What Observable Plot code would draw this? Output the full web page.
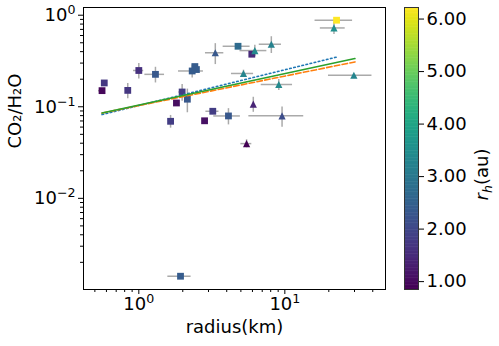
<!DOCTYPE html>
<html><head><meta charset="utf-8">
<script src="https://cdn.jsdelivr.net/npm/d3@7"></script>
<script src="https://cdn.jsdelivr.net/npm/@observablehq/plot@0.6"></script>
<style>
body{margin:0;background:#fff;}
#wrap{position:relative;width:499px;height:346px;background:#fff;font-family:"DejaVu Sans",sans-serif;}
#wrap svg{position:absolute;top:0;}
</style></head><body><div id="wrap"></div>
<script>
// ---- data ----
const radius   = [0.56, 0.58, 0.84, 1.00, 1.30, 1.65, 1.98, 1.81, 2.15, 2.32, 2.42, 2.48, 3.21, 2.82, 4.11, 3.34, 4.78, 5.94, 6.23, 8.08, 5.21, 9.09, 6.08, 9.57, 5.47, 22.6, 21.7, 29.7, 1.93];
const ratio    = [0.150, 0.182, 0.151, 0.249, 0.226, 0.0694, 0.145, 0.110, 0.121, 0.246, 0.275, 0.255, 0.0893, 0.0703, 0.0794, 0.389, 0.458, 0.375, 0.411, 0.482, 0.231, 0.175, 0.107, 0.0797, 0.0396, 0.882, 0.726, 0.221, 0.00141];
const rh       = [0.95, 1.7, 1.7, 1.6, 2.3, 1.8, 1.8, 1.05, 2.3, 2.4, 2.4, 2.4, 1.8, 1.1, 2.3, 2.3, 2.7, 1.5, 3.4, 3.2, 3.3, 3.4, 1.4, 2.1, 0.85, 6.22, 3.5, 3.3, 2.4];
const marker   = ["s","s","s","s","s","s","s","s","s","s","s","s","s","s","s","^","s","s","^","^","^","^","^","^","^","s","^","^","s"];
const radiusErr= [0.03, 0, 0, 0.08, 0.2, 0, 0.1, 0, 0, 0.45, 0, 0, 0.33, 0, 0.85, 0.48, 1.0, 0, 1.3, 1.4, 0.9, 2.2, 0, 3.9, 0.47, 6.5, 4.2, 9.8, 0.35];
const ratioErr = [0, 0, 0.029, 0.048, 0.044, 0.011, 0.03, 0, 0.035, 0.04, 0, 0, 0.005, 0, 0.016, 0.1, 0, 0, 0.06, 0.1, 0.02, 0.024, 0.02, 0.02, 0.004, 0, 0.11, 0, 0];
// fitted power laws (end points)
const fitX       = [0.56, 30.2];
const fitGreen   = [0.0855, 0.336];
const fitOrange  = [0.0855, 0.309];
const fitBlueX   = [0.56, 22.8];
const fitBlue    = [0.0822, 0.350];
// ticks
const xMajor = [1, 10];
const xMinor = [0.5,0.6,0.7,0.8,0.9,2,3,4,5,6,7,8,9,20,30,40];
const yMajor = [0.01, 0.1, 1];
const yMinor = [0.002,0.003,0.004,0.005,0.006,0.007,0.008,0.009,0.02,0.03,0.04,0.05,0.06,0.07,0.08,0.09,0.2,0.3,0.4,0.5,0.6,0.7,0.8,0.9];
const cbTicks = [1, 2, 3, 4, 5, 6];
const rhMin = 0.85, rhMax = 6.22;

const rows = radius.map((r, i) => ({r, v: ratio[i], rh: rh[i], m: marker[i], xe: radiusErr[i], ye: ratioErr[i]}));
const tri = {draw(ctx, size){const h = Math.sqrt(size/Math.PI); ctx.moveTo(0,-h); ctx.lineTo(h,h); ctx.lineTo(-h,h); ctx.closePath();}};
const sq  = {draw(ctx, size){const h = Math.sqrt(size/Math.PI); ctx.rect(-h,-h,2*h,2*h);}};
const pw = d => "10^" + String(Math.round(Math.log10(d))).replace("-", "\u2212");
const line = (xs, ys) => xs.map((x, i) => ({x, y: ys[i]}));
const FS = 18;

const main = Plot.plot({
  width: 390, height: 346,
  marginLeft: 83, marginRight: 5, marginTop: 7, marginBottom: 57,
  style: {fontFamily: "DejaVu Sans", fontSize: FS + "px", color: "black", background: "white", overflow: "visible"},
  x: {type: "log", domain: [0.418, 48.9]},
  y: {type: "log", domain: [0.00101, 1.214]},
  color: {type: "linear", scheme: "viridis", domain: [rhMin, rhMax]},
  marks: [
    Plot.ruleY(rows.filter(d => d.xe > 0), {y: "v", x1: d => d.r - d.xe, x2: d => d.r + d.xe, stroke: "#aaaaaa", strokeWidth: 1.5}),
    Plot.ruleX(rows.filter(d => d.ye > 0), {x: "r", y1: d => d.v - d.ye, y2: d => d.v + d.ye, stroke: "#aaaaaa", strokeWidth: 1.5}),
    Plot.dot(rows.filter(d => d.m === "s"), {x: "r", y: "v", fill: "rh", symbol: sq, r: 3.4}),
    Plot.dot(rows.filter(d => d.m === "^"), {x: "r", y: "v", fill: "rh", symbol: tri, r: 3.6}),
    Plot.line(line(fitBlueX, fitBlue), {x: "x", y: "y", stroke: "#1f77b4", strokeWidth: 1.6, strokeDasharray: "1.6,2.6"}),
    Plot.line(line(fitX, fitOrange), {x: "x", y: "y", stroke: "#ff7f0e", strokeWidth: 1.6, strokeDasharray: "5.5,2.4"}),
    Plot.line(line(fitX, fitGreen), {x: "x", y: "y", stroke: "#2ca02c", strokeWidth: 1.6}),
    Plot.axisX({ticks: xMinor, tickSize: 3, tickFormat: () => "", label: null}),
    Plot.axisX({ticks: xMajor, tickSize: 5, tickPadding: 3, tickFormat: pw, label: null}),
    Plot.axisY({ticks: yMinor, tickSize: 3, tickFormat: () => "", label: null}),
    Plot.axisY({ticks: yMajor, tickSize: 5, tickPadding: 3, tickFormat: pw, label: null}),
    Plot.text(["radius(km)"], {frameAnchor: "bottom", lineAnchor: "top", dy: 31, fontSize: FS, fill: "black"}),
    Plot.text(["CO\u2082/H\u2082O"], {frameAnchor: "left", lineAnchor: "top", rotate: -90, dx: -75, fontSize: FS, fill: "black"}),
    Plot.frame({stroke: "black", strokeWidth: 1})
  ]
});

const nSteps = 200;
const stepRows = d3.range(nSteps).map(i => {
  const a = rhMin + (rhMax - rhMin) * i / nSteps, b = rhMin + (rhMax - rhMin) * (i + 1) / nSteps;
  return {y1: a, y2: Math.min(rhMax, b + 0.01), c: (a + b) / 2};
});
const cb = Plot.plot({
  width: 109, height: 346,
  marginLeft: 14, marginRight: 81, marginTop: 7, marginBottom: 57,
  style: {fontFamily: "DejaVu Sans", fontSize: FS + "px", color: "black", background: "transparent", overflow: "visible"},
  x: {domain: [0, 1], axis: null},
  y: {domain: [rhMin, rhMax], axis: null},
  color: {type: "linear", scheme: "viridis", domain: [rhMin, rhMax]},
  marks: [
    Plot.rect(stepRows, {x1: () => 0, x2: () => 1, y1: "y1", y2: "y2", fill: "c"}),
    Plot.axisY({anchor: "right", ticks: cbTicks, tickSize: 5, tickPadding: 3, tickFormat: d => d.toFixed(2), label: null}),
    Plot.text(["r_h(au)"], {frameAnchor: "right", lineAnchor: "top", rotate: -90, dx: 57, fontSize: FS, fill: "black"}),
    Plot.frame({stroke: "#333", strokeWidth: 1})
  ]
});

const wrap = document.getElementById("wrap");
main.style.left = "0px";
cb.style.left = "390px";
wrap.appendChild(main);
wrap.appendChild(cb);

const NS = "http://www.w3.org/2000/svg";
// superscripts on log tick labels
for (const t of main.querySelectorAll("text")) {
  const m = /^10\^(.+)$/.exec(t.textContent);
  if (!m) continue;
  t.textContent = "10";
  const s = document.createElementNS(NS, "tspan");
  s.setAttribute("font-size", (FS * 0.7) + "px");
  s.setAttribute("dy", "-7");
  s.textContent = m[1];
  t.appendChild(s);
}
// r_h label
for (const t of cb.querySelectorAll("text")) {
  if (t.textContent !== "r_h(au)") continue;
  t.textContent = "";
  const a = document.createElementNS(NS, "tspan"); a.setAttribute("font-style", "italic"); a.textContent = "r";
  const b = document.createElementNS(NS, "tspan"); b.setAttribute("font-style", "italic"); b.setAttribute("font-size", (FS*0.7) + "px"); b.setAttribute("dy", "4"); b.textContent = "h";
  const c = document.createElementNS(NS, "tspan"); c.setAttribute("dy", "-4"); c.textContent = "(au)";
  t.appendChild(a); t.appendChild(b); t.appendChild(c);
}
</script>
</body></html>
